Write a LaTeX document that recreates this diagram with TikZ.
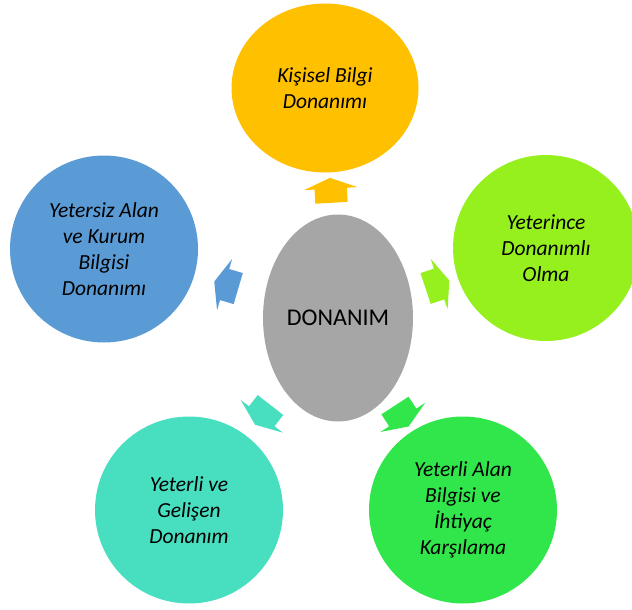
\documentclass[tikz,border=0pt]{standalone}
\usepackage{fontspec}
\setmainfont{Carlito}
\usetikzlibrary{shapes.geometric,shapes.arrows}
\definecolor{hubgray}{HTML}{A6A6A6}
\definecolor{kisyellow}{HTML}{FFC000}
\definecolor{yetlime}{HTML}{96F01E}
\definecolor{alanblue}{HTML}{5B9BD5}
\definecolor{gelteal}{HTML}{48DFC1}
\definecolor{ihtgreen}{HTML}{31E64B}
\begin{document}
\begin{tikzpicture}[x=1pt,y=-1pt,
    bubble/.style={ellipse,inner sep=0pt,minimum width=188pt,minimum height=187pt,
      align=center,font=\fontsize{21.5}{26}\selectfont\itshape},
    spoke/.style={single arrow,draw=none,inner xsep=0pt,inner ysep=16pt,
      minimum height=25pt,single arrow head extend=10.5pt,single arrow tip angle=136,
      sloped,allow upside down}]
  \useasboundingbox (0,0) rectangle (632,610);
  % centre
  \node[ellipse,fill=hubgray,inner sep=0pt,minimum width=150pt,minimum height=207pt,
    font=\fontsize{24}{29}\selectfont] (hub) at (338,318) {DONANIM};
  % outer bubbles
  \node[bubble,fill=kisyellow,minimum width=187pt,minimum height=169pt] (kisisel) at (325,88)
    {Kişisel Bilgi\\Donanımı};
  \node[bubble,fill=yetlime,minimum width=186pt,minimum height=186pt] (yeterince) at (546,248)
    {Yeterince\\Donanımlı\\Olma};
  \node[bubble,fill=ihtgreen] (ihtiyac) at (463,510)
    {Yeterli Alan\\Bilgisi ve\\İhtiyaç\\Karşılama};
  \node[bubble,fill=gelteal] (gelisen) at (189,510)
    {Yeterli ve\\Gelişen\\Donanım};
  \node[bubble,fill=alanblue] (yetersiz) at (104,249)
    {Yetersiz Alan\\ve Kurum\\Bilgisi\\Donanımı};
  % arrows
  \path (hub) -- node[spoke,fill=kisyellow]{} (kisisel);
  \path (hub) -- node[spoke,fill=yetlime]{} (yeterince);
  \path (hub) -- node[spoke,fill=ihtgreen]{} (ihtiyac);
  \path (hub) -- node[spoke,fill=gelteal]{} (gelisen);
  \path (hub) -- node[spoke,fill=alanblue]{} (yetersiz);
\end{tikzpicture}
\end{document}
